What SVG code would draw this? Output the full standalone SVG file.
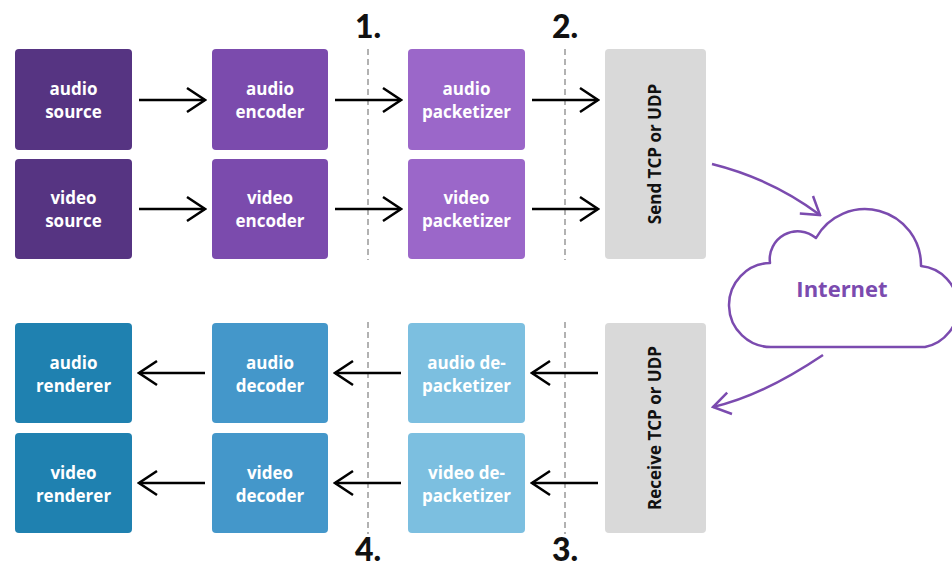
<svg xmlns="http://www.w3.org/2000/svg" width="952" height="570" viewBox="0 0 952 570">
<style>
.lbl{font-family:"Open Sans","Noto Sans","Liberation Sans",sans-serif;font-weight:700;font-size:17px;fill:#fff;text-anchor:middle}
.dark{fill:#111}
.num{font-family:Lato,"Liberation Sans",sans-serif;font-weight:900;font-size:32px;fill:#111;text-anchor:middle}
.src{fill:#563482}.enc{fill:#7b4bad}.pkt{fill:#9b67c9}.net{fill:#d9d9d9}
.ren{fill:#1f81b0}.dec{fill:#4497ca}.dpk{fill:#7cbfe0}
.arr{fill:none;stroke:#000;stroke-width:2.5;marker-end:url(#ah)}
.parr{fill:none;stroke:#7b4baf;stroke-width:2.5;marker-end:url(#pah)}
.dash{stroke:#999;stroke-width:1.5;stroke-dasharray:6 4}
</style>
<defs>
<marker id="ah" viewBox="0 0 22 28" refX="20" refY="14" markerWidth="22" markerHeight="28" orient="auto" markerUnits="userSpaceOnUse">
<path d="M2,2 L20,14 L2,26" fill="none" stroke="#000" stroke-width="2.5"/>
</marker>
<marker id="pah" viewBox="0 0 22 28" refX="20" refY="14" markerWidth="22" markerHeight="28" orient="auto" markerUnits="userSpaceOnUse">
<path d="M3,3 L20,14 L3,25" fill="none" stroke="#7b4baf" stroke-width="2.5"/>
</marker>
</defs>
<rect width="952" height="570" fill="#fff"/>
<g id="separators">
<line class="dash" x1="368" y1="49" x2="368" y2="260"/>
<line class="dash" x1="565" y1="49" x2="565" y2="260"/>
<line class="dash" x1="368" y1="322" x2="368" y2="534"/>
<line class="dash" x1="565" y1="322" x2="565" y2="534"/>
<text class="num" x="368" y="38">1.</text>
<text class="num" x="565" y="38">2.</text>
<text class="num" x="368" y="561">4.</text>
<text class="num" x="565" y="561">3.</text>
</g>
<g id="audio-source"><rect class="src" x="15" y="49" width="117" height="101" rx="4"/><text class="lbl" x="73.5" y="95">audio</text><text class="lbl" x="73.5" y="118">source</text></g>
<g id="video-source"><rect class="src" x="15" y="159" width="117" height="100" rx="4"/><text class="lbl" x="73.5" y="204">video</text><text class="lbl" x="73.5" y="227">source</text></g>
<g id="audio-encoder"><rect class="enc" x="212" y="49" width="116" height="101" rx="4"/><text class="lbl" x="270" y="95">audio</text><text class="lbl" x="270" y="118">encoder</text></g>
<g id="video-encoder"><rect class="enc" x="212" y="159" width="116" height="100" rx="4"/><text class="lbl" x="270" y="204">video</text><text class="lbl" x="270" y="227">encoder</text></g>
<g id="audio-packetizer"><rect class="pkt" x="408" y="49" width="117" height="101" rx="4"/><text class="lbl" x="466.5" y="95">audio</text><text class="lbl" x="466.5" y="118">packetizer</text></g>
<g id="video-packetizer"><rect class="pkt" x="408" y="159" width="117" height="100" rx="4"/><text class="lbl" x="466.5" y="204">video</text><text class="lbl" x="466.5" y="227">packetizer</text></g>
<g id="send"><rect class="net" x="605" y="49" width="101" height="210" rx="4"/><text class="lbl dark" transform="translate(661,154) rotate(-90)">Send TCP or UDP</text></g>
<g id="internet">
<path d="M772,347 A42,42 0 0 1 770,263 A28,28 0 0 1 816,238 A56,56 0 0 1 921,266 A41,41 0 0 1 925,347 Z" fill="#fff" stroke="#7b4baf" stroke-width="2.5" stroke-linejoin="round"/>
<text x="842" y="297" font-family="'Open Sans','Liberation Sans',sans-serif" font-weight="700" font-size="22" fill="#7b4baf" text-anchor="middle">Internet</text>
</g>
<g id="receive"><rect class="net" x="605" y="323" width="101" height="210" rx="4"/><text class="lbl dark" transform="translate(661,428) rotate(-90)">Receive TCP or UDP</text></g>
<g id="audio-depacketizer"><rect class="dpk" x="408" y="323" width="117" height="100" rx="4"/><text class="lbl" x="466.5" y="369">audio de-</text><text class="lbl" x="466.5" y="392">packetizer</text></g>
<g id="video-depacketizer"><rect class="dpk" x="408" y="433" width="117" height="100" rx="4"/><text class="lbl" x="466.5" y="479">video de-</text><text class="lbl" x="466.5" y="502">packetizer</text></g>
<g id="audio-decoder"><rect class="dec" x="212" y="323" width="116" height="100" rx="4"/><text class="lbl" x="270" y="369">audio</text><text class="lbl" x="270" y="392">decoder</text></g>
<g id="video-decoder"><rect class="dec" x="212" y="433" width="116" height="100" rx="4"/><text class="lbl" x="270" y="479">video</text><text class="lbl" x="270" y="502">decoder</text></g>
<g id="audio-renderer"><rect class="ren" x="15" y="323" width="117" height="100" rx="4"/><text class="lbl" x="73.5" y="369">audio</text><text class="lbl" x="73.5" y="392">renderer</text></g>
<g id="video-renderer"><rect class="ren" x="15" y="433" width="117" height="100" rx="4"/><text class="lbl" x="73.5" y="479">video</text><text class="lbl" x="73.5" y="502">renderer</text></g>
<g id="connectors">
<path class="arr" d="M139,100 H205"/>
<path class="arr" d="M139,209 H205"/>
<path class="arr" d="M335,100 H401"/>
<path class="arr" d="M335,209 H401"/>
<path class="arr" d="M532,100 H598"/>
<path class="arr" d="M532,209 H598"/>
<path class="parr" d="M712,164 Q772,179 820,215"/>
<path class="parr" d="M823,355 Q762,396 713,407"/>
<path class="arr" d="M598,373 H532"/>
<path class="arr" d="M598,483 H532"/>
<path class="arr" d="M401,373 H335"/>
<path class="arr" d="M401,483 H335"/>
<path class="arr" d="M205,373 H139"/>
<path class="arr" d="M205,483 H139"/>
</g>
</svg>
